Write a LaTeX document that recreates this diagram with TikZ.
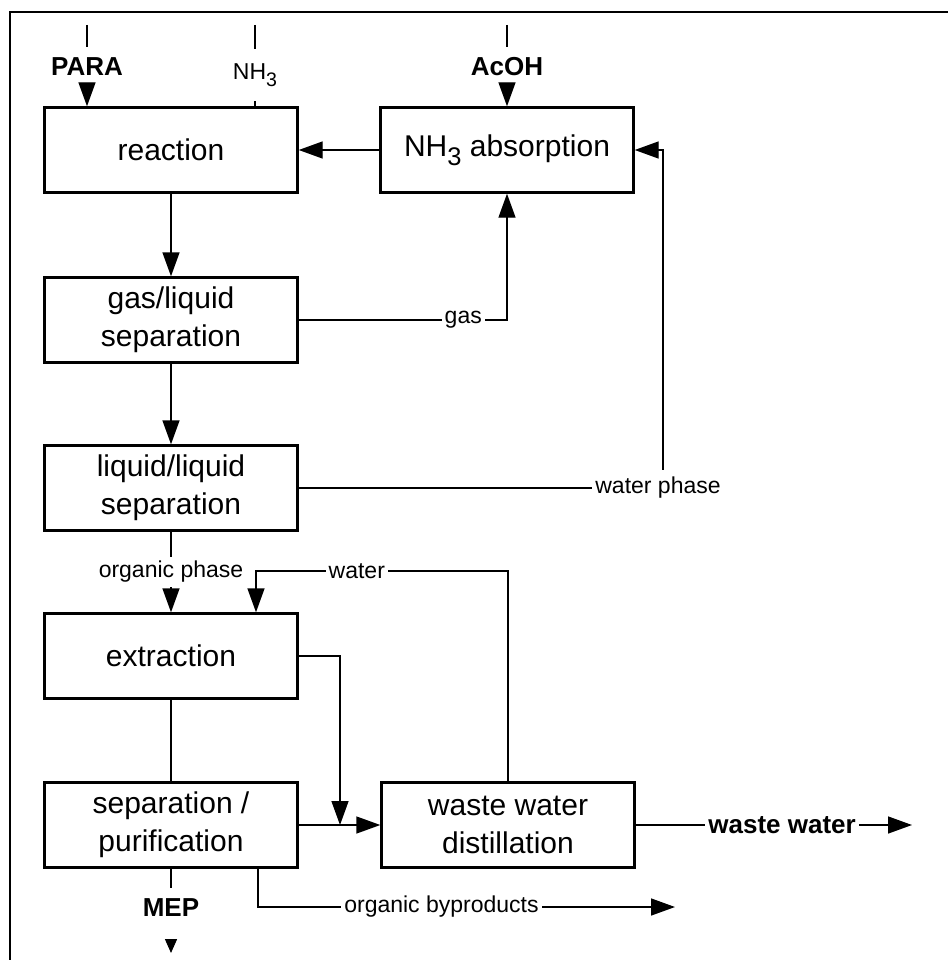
\documentclass[tikz,border=0pt]{standalone}
\usepackage{fontspec}
\setmainfont{Liberation Sans}
\usepackage{graphicx}
\usetikzlibrary{arrows.meta,positioning}

\newcommand{\lowsub}[1]{\raisebox{-0.3em}{\scalebox{0.85}{#1}}}

\tikzset{
  unitop/.style={draw, line width=2.4pt, minimum width=253pt, minimum height=85pt,
    inner sep=0pt, align=center, font=\fontsize{30}{38}\selectfont},
  flow/.style={-{Triangle[length=24pt,width=17pt]}},
  flowsm/.style={-{Triangle[length=14pt,width=12pt]}},
  lbl/.style={fill=white, inner xsep=3pt, inner ysep=2pt, font=\fontsize{23}{27}\selectfont},
  blbl/.style={lbl, font=\fontsize{26}{30}\selectfont\bfseries},
}

\begin{document}
\begin{tikzpicture}[x=1pt, y=-1pt, line width=1.4pt]
    \useasboundingbox (0,0) rectangle (948,960);
    % Page frame, only top and left edges show
    \draw[line width=2pt] (10,960) -- (10,12) -- (948,12);

    % Process units
    \node[unitop] (reaction) at (171,150) {reaction};
    \node[unitop] (absorp) at (507,150) {NH\lowsub{3} absorption};
    \node[unitop] (gasliq) at (171,320) {gas/liquid\\separation};
    \node[unitop] (liqliq) at (171,488) {liquid/liquid\\separation};
    \node[unitop] (extract) at (171,656) {extraction};
    \node[unitop] (sepur) at (171,825) {separation /\\purification};
    \node[unitop] (wwdist) at (508,825) {waste water\\distillation};

    % Feeds at the top
    \coordinate (paratop) at (87,25); \coordinate (nhtop) at (255,25); \coordinate (acohtop) at (507,25);
    \node[blbl, inner ysep=10pt] (para) at (87,67) {PARA};
    \node[lbl, inner ysep=14pt] (nhfeed) at (255,75) {NH\lowsub{3}};
    \node[blbl, inner ysep=10pt] (acoh) at (507,67) {AcOH};
    \draw (paratop) -- (para);
    \draw[flow] (para) -- (reaction.north -| para);
    \draw (nhtop) -- (nhfeed);
    \draw (nhfeed) -- (reaction.north -| nhfeed);
    \draw (acohtop) -- (acoh);
    \draw[flow] (acoh) -- (absorp);

    % Main line down the left column
    \draw[flow] (absorp) -- (reaction);
    \draw[flow] (reaction) -- (gasliq);
    \draw[flow] (gasliq) -- (liqliq);
    \draw[flow] (liqliq) -- node[lbl, inner ysep=4pt] (orgph) {organic phase} (extract);
    \draw (extract) -- (sepur);

    % Recycles back to the absorber
    \draw[flow] (gasliq) -- node[lbl, pos=0.79] (gaslbl) {gas} (gasliq -| absorp) -- (absorp);
    \coordinate (wpcorner) at (663,488);
    \draw[flow] (liqliq) -- (wpcorner) node[lbl, inner ysep=7pt, xshift=-5pt] (wplbl) {water phase}
        -- (wpcorner |- absorp) -- (absorp);

    % Water loop and waste water
    \coordinate (wtrturn) at (256,571);
    \draw[flow] (wwdist) |- node[lbl, pos=0.8] (wtrlbl) {water} (wtrturn) -- (wtrturn |- extract.north);
    \coordinate (mix) at (340,825);
    \draw[flow] (extract) -| (mix);
    \draw[flow] (sepur) -- (wwdist);

    % Products
    \coordinate (wwout) at (912,825);
    \draw[flow] (wwdist) -- node[blbl, pos=0.53] (wwlbl) {waste water} (wwout);
    \coordinate (bypout) at (675,907);
    \draw[flow] ([xshift=87pt]sepur.south) |- node[lbl, pos=0.72] (byplbl) {organic byproducts} (bypout);
    \node[blbl, text depth=12pt, inner ysep=10pt] (mep) at (171,914) {MEP};
    \coordinate (mepout) at (171,953);
    \draw (sepur) -- (mep);
    \draw[flowsm] (mep) -- (mepout);
\end{tikzpicture}
\end{document}
